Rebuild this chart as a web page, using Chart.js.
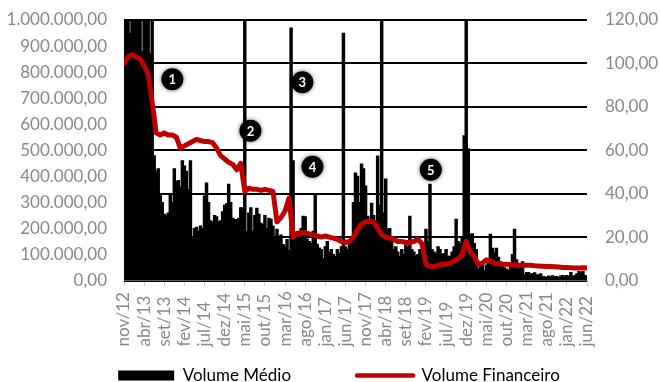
<!DOCTYPE html>
<html>
<head>
<meta charset="utf-8">
<script src="https://cdn.jsdelivr.net/npm/chart.js@4.4.1/dist/chart.umd.min.js"></script>
<style>
  html, body { margin: 0; background: #fff; }
</style>
</head>
<body>
<canvas id="chart" width="660" height="382"></canvas>
<script>
// x axis labels, one every 5 months starting nov/12
const monthTicks = ['nov/12', 'abr/13', 'set/13', 'fev/14', 'jul/14', 'dez/14', 'mai/15', 'out/15',
    'mar/16', 'ago/16', 'jan/17', 'jun/17', 'nov/17', 'abr/18', 'set/18', 'fev/19', 'jul/19',
    'dez/19', 'mai/20', 'out/20', 'mar/21', 'ago/21', 'jan/22', 'jun/22'];

// Volume Médio, in thousands, one value per half month from nov/12
const volumeMedio = [
    1150, 1300, 1200, 950, 1250, 1100, 1400, 1200, 1300, 880, 1150, 1350, 1000, 870, 1200,
    480, 420, 430, 330, 300, 255, 250, 260, 330, 300, 430, 380, 385, 360, 460,
    440, 420, 350, 460, 160, 200, 205, 190, 210, 200, 325, 375, 300, 230, 225,
    250, 245, 225, 230, 265, 290, 295, 370, 300, 240, 235, 235, 240, 280, 280,
    1100, 190, 260, 280, 190, 250, 278, 255, 220, 215, 250, 200, 240, 236, 210,
    170, 197, 162, 175, 139, 131, 158, 116, 970, 460, 162, 189, 190, 200, 247,
    245, 160, 150, 143, 190, 332, 140, 125, 120, 85, 130, 150, 110, 120, 100,
    93, 120, 105, 130, 950, 130, 120, 140, 170, 300, 413, 401, 300, 448, 430,
    363, 247, 230, 297, 250, 230, 479, 290, 1100, 260, 390, 197, 200, 150, 120,
    130, 110, 93, 120, 100, 140, 130, 247, 120, 110, 95, 100, 120, 110, 140,
    197, 150, 370, 120, 110, 104, 130, 120, 100, 104, 120, 95, 93, 110, 130,
    236, 150, 143, 170, 556, 1100, 506, 178, 180, 143, 120, 46, 73, 73, 39,
    60, 80, 178, 124, 108, 124, 90, 73, 60, 50, 45, 39, 70, 100, 197,
    80, 46, 60, 73, 23, 31, 31, 25, 28, 30, 22, 23, 27, 15, 15,
    12, 18, 15, 19, 14, 16, 12, 18, 20, 15, 20, 16, 31, 15, 20,
    27, 35, 30, 35, 20, 18
];

// Volume Financeiro, one value per month from nov/12
const volumeFinanceiro = [
    100, 103, 104, 103, 102, 99, 95, 82, 68, 67,
    68, 67, 67, 66, 61, 62, 63, 64, 65, 64.5,
    64, 64, 63.5, 61, 57.5, 56, 54.5, 53.5, 51, 54,
    41, 42.5, 42, 42, 41.5, 42, 41.5, 41, 27, 29,
    32, 38, 20, 21.5, 22, 22, 21.5, 21, 20.5, 20,
    20.5, 20, 19.5, 19, 18, 17.5, 18, 20, 23.5, 26,
    27, 27.5, 27, 24, 21, 20, 19.5, 19, 18, 18,
    17.5, 17.5, 18, 19, 17, 7.5, 6.5, 6.5, 7, 7.5,
    7.5, 8, 9, 10, 12, 18, 13, 11, 7.5, 8,
    9.5, 9, 8, 7.8, 7.5, 7.5, 7.3, 7.2, 7, 7,
    7, 7, 6.8, 6.7, 6.6, 6.5, 6.4, 6.3, 6.2, 6,
    6, 5.9, 5.8, 5.8, 5.9, 5.8
];

// numbered event markers (month index, right axis level)
const markerLabels = ['1', '2', '3', '4', '5'];
const markerMonths = [12, 31.4, 44.3, 46.8, 76.2];
const markerLevels = [92.7, 69, 91.3, 52.4, 51];

const FONT = 'Lato, "Liberation Sans", sans-serif';
const TICK_COLOR = '#888';

function fmtBR(value, decimals) {
    const parts = value.toFixed(decimals).split('.');
    return parts[0].replace(/\B(?=(\d{3})+(?!\d))/g, '.') + ',' + parts[1];
}

// rotated month labels, aligned at their bottom like the original
const monthLabelsPlugin = {
    id: 'monthLabels',
    afterLayout(chart) {
        // nudge the legend row a little to the right
        chart.legend.left += 9;
        chart.legend.right += 9;
    },
    afterDraw(chart) {
        const { ctx, scales: { x } } = chart;
        ctx.save();
        ctx.font = `17px ${FONT}`;
        ctx.fillStyle = TICK_COLOR;
        ctx.textAlign = 'left';
        ctx.textBaseline = 'middle';
        x.ticks.forEach((t, k) => {
            ctx.save();
            ctx.translate(x.getPixelForValue(t.value), chart.chartArea.bottom + 66);
            ctx.rotate(-Math.PI / 2);
            ctx.fillText(monthTicks[k], 0, 0);
            ctx.restore();
        });
        ctx.restore();
    }
};

const markersPlugin = {
    id: 'markers',
    afterDatasetsDraw(chart) {
        const { ctx, scales: { x, y2 } } = chart;
        markerLabels.forEach((label, k) => {
            const px = x.getPixelForValue(markerMonths[k]);
            const py = y2.getPixelForValue(markerLevels[k]);
            ctx.save();
            ctx.shadowColor = 'rgba(0,0,0,0.6)';
            ctx.shadowBlur = 4;
            ctx.beginPath();
            ctx.arc(px, py, 11, 0, Math.PI * 2);
            ctx.fillStyle = '#000';
            ctx.fill();
            ctx.shadowColor = 'transparent';
            ctx.fillStyle = '#fff';
            ctx.font = `bold 13px ${FONT}`;
            ctx.textAlign = 'center';
            ctx.textBaseline = 'middle';
            ctx.fillText(label, px, py + 1);
            ctx.restore();
        });
    }
};

new Chart(document.getElementById('chart'), {
    type: 'bar',
    data: {
        datasets: [
            {
                type: 'bar',
                label: 'Volume Médio',
                data: volumeMedio.map((v, i) => ({ x: i / 2, y: v })),
                backgroundColor: '#000',
                borderWidth: 0,
                barThickness: 2.8,
                yAxisID: 'y',
                order: 2
            },
            {
                type: 'line',
                label: 'Volume Financeiro',
                data: volumeFinanceiro.map((v, m) => ({ x: m, y: v })),
                borderColor: '#C00000',
                borderWidth: 5,
                borderJoinStyle: 'round',
                borderCapStyle: 'round',
                pointRadius: 0,
                tension: 0,
                yAxisID: 'y2',
                order: 1
            }
        ]
    },
    options: {
        responsive: false,
        animation: false,
        devicePixelRatio: 1,
        events: [],
        layout: { padding: { top: 20, left: 0, right: 0, bottom: -12 } },
        scales: {
            x: {
                type: 'linear',
                min: 0,
                max: 115,
                offset: false,
                afterBuildTicks: s => { s.ticks = monthTicks.map((_, k) => ({ value: k * 5 })); },
                afterFit: s => { s.height = 20.5; },
                ticks: { display: false },
                grid: { offset: false, drawOnChartArea: false, drawTicks: true, tickLength: 6, color: '#d0d0d0' },
                border: { color: '#d0d0d0' }
            },
            y: {
                position: 'left',
                min: 0,
                max: 1000,
                afterFit: s => { s.width = 124; },
                ticks: {
                    stepSize: 100,
                    padding: 0,
                    color: TICK_COLOR,
                    font: { family: FONT, size: 17 },
                    callback: v => fmtBR(v * 1000, 2)
                },
                grid: { display: false, drawTicks: true, tickLength: 17 },
                border: { display: false }
            },
            y2: {
                position: 'right',
                min: 0,
                max: 120,
                afterFit: s => { s.width = 73; },
                ticks: {
                    stepSize: 20,
                    padding: 0,
                    color: TICK_COLOR,
                    font: { family: FONT, size: 17 },
                    callback: v => fmtBR(v, 2)
                },
                grid: { color: '#000', lineWidth: 2, drawTicks: true, tickLength: 18, tickColor: 'rgba(0,0,0,0)' },
                border: { display: false }
            }
        },
        plugins: {
            tooltip: { enabled: false },
            legend: {
                position: 'bottom',
                labels: {
                    usePointStyle: true,
                    pointStyleWidth: 56,
                    boxHeight: 10,
                    padding: 66,
                    color: '#666',
                    font: { family: FONT, size: 17 },
                    generateLabels: () => [
                        { text: 'Volume Médio', fillStyle: '#000', strokeStyle: '#000', lineWidth: 0, pointStyle: 'rect', datasetIndex: 0 },
                        { text: 'Volume Financeiro', fillStyle: '#C00000', strokeStyle: '#C00000', lineWidth: 4.5, lineCap: 'round', pointStyle: 'line', datasetIndex: 1 }
                    ]
                }
            }
        }
    },
    plugins: [monthLabelsPlugin, markersPlugin]
});
</script>
</body>
</html>
